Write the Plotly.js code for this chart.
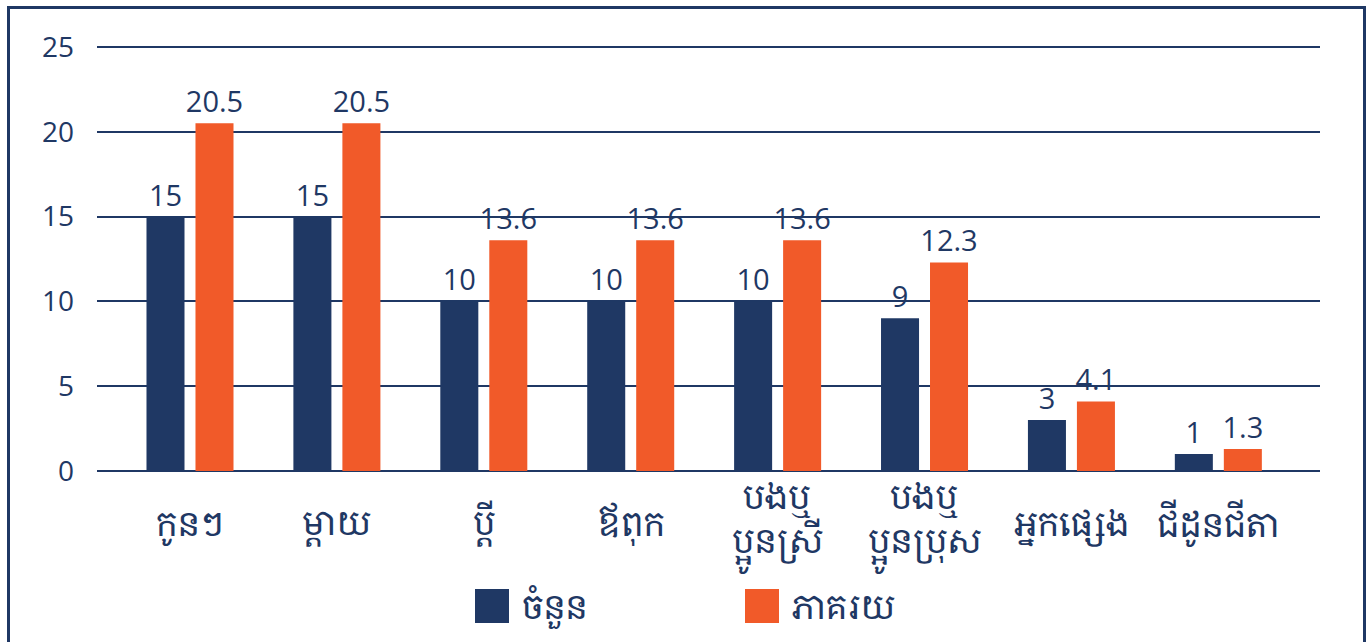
<!DOCTYPE html>
<html>
<head>
<meta charset="utf-8">
<script src="https://cdn.plot.ly/plotly-3.0.1.min.js"></script>
<style>
  html, body { margin: 0; padding: 0; background: #ffffff; overflow: hidden; }
  #frame { position: absolute; left: 7px; top: 6px; width: 1353px; height: 700px;
           border: 3px solid #1F3864; border-bottom: none; box-sizing: content-box; }
  #chart { position: absolute; left: 0; top: 0; width: 1372px; height: 642px; }
</style>
</head>
<body>
<div id="frame"></div>
<div id="chart"></div>
<script>
const categories = ["កូនៗ", "ម្តាយ", "ប្តី", "ឪពុក", "បងឬ<br>ប្អូនស្រី", "បងឬ<br>ប្អូនប្រុស", "អ្នកផ្សេង", "ជីដូនជីតា"];
const countValues = [15, 15, 10, 10, 10, 9, 3, 1];
const percentValues = [20.5, 20.5, 13.6, 13.6, 13.6, 12.3, 4.1, 1.3];
const seriesNames = ["ចំនួន", "ភាគរយ"];
const yTicks = [0, 5, 10, 15, 20, 25];

const navy = "#1F3864";
const orange = "#F15A29";
const numFont = "'Open Sans', 'Noto Sans', sans-serif";
const khFont = "'Noto Serif Khmer', 'Khmer OS Battambang', 'Khmer OS', 'Noto Sans Khmer', sans-serif";

const traces = [
  {
    type: "bar", name: seriesNames[0], x: categories, y: countValues,
    marker: { color: navy },
    text: countValues.map(String), textposition: "outside", cliponaxis: false,
    constraintext: "none",
    textfont: { family: numFont, size: 29, color: navy }
  },
  {
    type: "bar", name: seriesNames[1], x: categories, y: percentValues,
    marker: { color: orange },
    text: percentValues.map(String), textposition: "outside", cliponaxis: false,
    constraintext: "none",
    textfont: { family: numFont, size: 29, color: navy }
  }
];

const M = { l: 97, r: 52, t: 42, b: 171 };
const layout = {
  width: 1372, height: 642,
  margin: M,
  paper_bgcolor: "rgba(0,0,0,0)", plot_bgcolor: "rgba(0,0,0,0)",
  barmode: "group", bargap: 0.333, bargroupgap: 0.224,
  showlegend: false,
  xaxis: {
    type: "category", range: [-0.633, 7.692],
    showgrid: false, showline: false, zeroline: false, ticks: "",
    showticklabels: false
  },
  yaxis: {
    range: [0, 25.295], tickvals: yTicks, ticktext: yTicks.map(String),
    showgrid: true, gridcolor: navy, gridwidth: 2,
    zeroline: true, zerolinecolor: navy, zerolinewidth: 2,
    showline: false, ticks: "", ticklabelstandoff: 22,
    tickfont: { family: numFont, size: 28, color: navy }
  }
};

const plotW = 1372 - M.l - M.r, plotH = 642 - M.t - M.b;
function px2x(px) { return (px - M.l) / plotW; }
function px2y(py) { return (642 - M.b - py) / plotH; }

// Category labels, vertically centred under each group
const catAnnotations = categories.map(c => ({
  xref: "x", yref: "paper", x: c, y: px2y(523),
  xanchor: "center", yanchor: "middle", showarrow: false, align: "center",
  text: c, font: { family: khFont, size: 34, color: navy }
}));

// Custom legend with large square keys
const legendItems = [
  { name: seriesNames[0], color: navy, x: 475 },
  { name: seriesNames[1], color: orange, x: 745 }
];
layout.shapes = legendItems.map(it => ({
  type: "rect", xref: "paper", yref: "paper",
  x0: px2x(it.x), x1: px2x(it.x + 34), y0: px2y(623), y1: px2y(589),
  fillcolor: it.color, line: { width: 0 }
}));
layout.annotations = catAnnotations.concat(legendItems.map(it => ({
  xref: "paper", yref: "paper", x: px2x(it.x + 44), y: px2y(606),
  xanchor: "left", yanchor: "middle", showarrow: false,
  text: it.name, font: { family: khFont, size: 34, color: navy }
})));

Plotly.newPlot("chart", traces, layout, { displayModeBar: false, staticPlot: true });
</script>
</body>
</html>
